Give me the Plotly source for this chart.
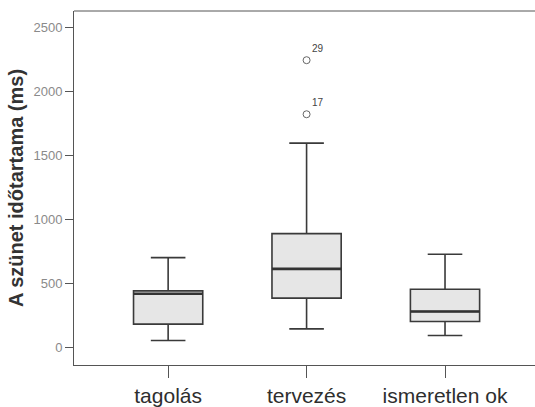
import plotly.graph_objects as go

categories = ["tagolás", "tervezés", "ismeretlen ok"]
lower_whisker = [52, 143, 91]
q1_values = [180, 383, 200]
medians = [418, 612, 279]
q3_values = [440, 888, 453]
upper_whisker = [700, 1596, 727]

outlier_category = [1, 1]
outlier_values = [2245, 1822]
outlier_labels = ["29", "17"]

yticks = [0, 500, 1000, 1500, 2000, 2500]

BOX_WIDTH = 0.5
positions = list(range(len(categories)))

fig = go.Figure()
fig.add_trace(go.Box(
    x=positions,
    q1=q1_values, median=medians, q3=q3_values,
    lowerfence=lower_whisker, upperfence=upper_whisker,
    fillcolor="#e6e6e6",
    line=dict(color="#3a3a3a", width=1.6),
    whiskerwidth=0.5,
    width=BOX_WIDTH,
    boxpoints=False,
    showlegend=False,
    hoverinfo="skip",
))
# thicker median lines
mx, my = [], []
for p, m in zip(positions, medians):
    mx += [p - BOX_WIDTH / 2, p + BOX_WIDTH / 2, None]
    my += [m, m, None]
fig.add_trace(go.Scatter(
    x=mx, y=my, mode="lines",
    line=dict(color="#333333", width=2.6),
    showlegend=False, hoverinfo="skip",
))
fig.add_trace(go.Scatter(
    x=outlier_category, y=outlier_values,
    mode="markers+text",
    marker=dict(symbol="circle-open", size=7, color="#666666", line=dict(width=1)),
    text=outlier_labels,
    textposition="top right",
    textfont=dict(family="Liberation Sans, Arial", size=10, color="#444444"),
    showlegend=False,
    hoverinfo="skip",
))

fig.update_layout(
    width=535, height=407,
    margin=dict(l=74, r=0, t=11, b=40),
    paper_bgcolor="white",
    plot_bgcolor="white",
    font=dict(family="Liberation Sans, Arial", color="#333333"),
    shapes=[dict(type="line", xref="paper", yref="paper", x0=0, x1=1, y0=1, y1=1,
                 line=dict(color="#555555", width=1))],
)
fig.update_xaxes(
    range=[-0.68, 2.65],
    tickvals=positions, ticktext=categories,
    showline=True, linecolor="#555555", linewidth=1,
    ticks="outside", ticklen=12, tickcolor="#555555",
    tickfont=dict(size=21, color="#2e2e2e"),
    showgrid=False, zeroline=False,
)
fig.update_yaxes(
    range=[-140, 2630],
    tickvals=yticks,
    ticktext=[str(v) for v in yticks],
    showline=True, linecolor="#555555", linewidth=1,
    ticks="outside", ticklen=8, tickcolor="#555555",
    tickfont=dict(size=13, color="#8a8a8a"),
    showgrid=False, zeroline=False,
    title=dict(text="<b>A szünet időtartama (ms)</b>", font=dict(size=20, color="#333333"), standoff=4),
)

fig.write_html("out.html", config={"displayModeBar": False},
               post_script="document.body.style.margin='0';document.body.style.overflow='hidden';")
